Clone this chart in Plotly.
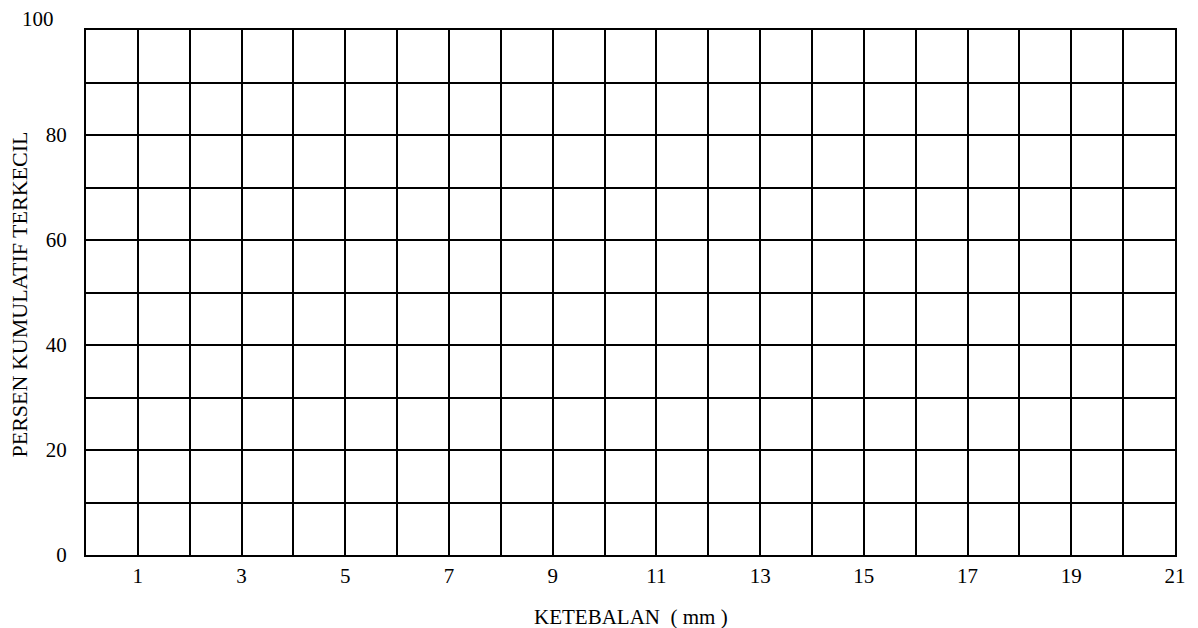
import plotly.graph_objs as go

# axis setup (empty grid sheet)
x_ticks = [0, 1, 2, 3, 4, 5, 6, 7, 8, 9, 10, 11, 12, 13, 14, 15, 16, 17, 18, 19, 20, 21]
x_tick_labels = ['', '1', '', '3', '', '5', '', '7', '', '9', '', '11', '', '13', '', '15', '', '17', '', '19', '', '21']
y_ticks = [0, 10, 20, 30, 40, 50, 60, 70, 80, 90, 100]
y_tick_labels = ['0', '', '20', '', '40', '', '60', '', '80', '', '']
y_top_label = '100'

x_title = 'KETEBALAN  ( mm )'
y_title = 'PERSEN KUMULATIF TERKECIL'

SERIF = "Liberation Serif"

fig = go.Figure()
fig.add_trace(go.Scatter(x=[], y=[], mode='markers', showlegend=False))

fig.update_xaxes(
    range=[0, 21],
    tickvals=x_ticks,
    ticktext=x_tick_labels,
    showgrid=True, gridcolor='black', gridwidth=2,
    showline=True, linecolor='black', linewidth=2, mirror=True,
    zeroline=False,
    ticks='',
    ticklabelstandoff=1,
    tickfont=dict(family=SERIF, size=21, color='black'),
)
fig.update_yaxes(
    range=[0, 100],
    tickvals=y_ticks,
    ticktext=y_tick_labels,
    showgrid=True, gridcolor='black', gridwidth=2,
    showline=True, linecolor='black', linewidth=2, mirror=True,
    zeroline=False,
    ticks='',
    ticklabelstandoff=13,
    tickfont=dict(family=SERIF, size=21, color='black'),
)

# "100" sits above the top-left corner in the reference
fig.add_annotation(
    text=y_top_label, xref='paper', yref='y', x=0, y=100,
    xanchor='right', yanchor='middle', xshift=-30, yshift=11,
    showarrow=False, font=dict(family=SERIF, size=21, color='black'),
)
# axis titles
fig.add_annotation(
    text=x_title, xref='paper', yref='paper', x=0.5, y=0,
    xanchor='center', yanchor='middle', yshift=-62,
    showarrow=False, font=dict(family=SERIF, size=21, color='black'),
)
fig.add_annotation(
    text=y_title, xref='paper', yref='paper', x=0, y=0.5, textangle=-90,
    xanchor='center', yanchor='middle', xshift=-67, yshift=-2,
    showarrow=False, font=dict(family=SERIF, size=22, color='black'),
)

# page body has an 8px margin, so the figure is shifted by 8px; compensate
fig.update_layout(
    width=1190, height=620,
    font=dict(family=SERIF, size=20, color='black'),
    margin=dict(l=78, r=23, t=22, b=73),
    paper_bgcolor='white',
    plot_bgcolor='white',
)

fig.write_html("out.html")
